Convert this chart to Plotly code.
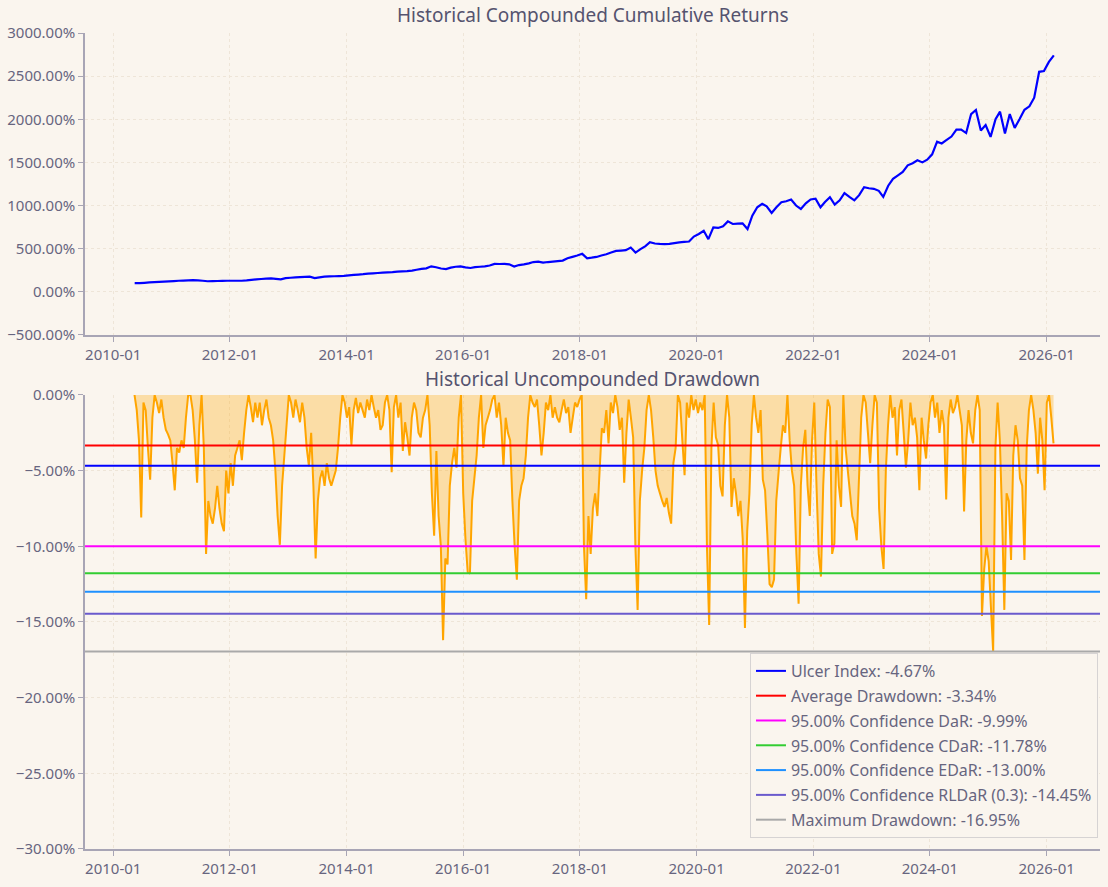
import pandas as pd
import plotly.graph_objects as go
from plotly.subplots import make_subplots

# compounded cumulative returns (%), mid-month samples from 2010-05
cum_returns = [
    101, 100, 104, 109, 111, 114, 117, 120,                          # 2010
    124, 128, 130, 133, 136, 132, 128, 122, 124, 125, 126, 128,      # 2011
    128, 128, 128, 132, 138, 144, 148, 152, 155, 150, 144, 158,      # 2012
    163, 167, 170, 173, 175, 159, 168, 175, 179, 180, 182, 184,      # 2013
    190, 195, 200, 204, 210, 214, 218, 221, 225, 228, 233, 237,      # 2014
    240, 245, 255, 265, 272, 295, 285, 270, 264, 280, 290, 295,      # 2015
    284, 276, 285, 290, 295, 305, 323, 322, 323, 318, 292, 310,      # 2016
    318, 330, 345, 350, 338, 345, 350, 356, 362, 389, 405, 420,      # 2017
    440, 389, 395, 404, 420, 435, 455, 474, 478, 482, 513, 455,      # 2018
    494, 530, 575, 560, 555, 552, 555, 565, 572, 578, 583, 640,      # 2019
    670, 708, 610, 747, 740, 760, 816, 786, 790, 793, 727, 883,      # 2020
    980, 1019, 990, 914, 980, 1038, 1050, 1069, 1000, 960, 1026, 1070,   # 2021
    1080, 980, 1040, 1096, 1011, 1060, 1143, 1100, 1060, 1120, 1213, 1200,  # 2022
    1194, 1170, 1100, 1230, 1310, 1350, 1390, 1466, 1490, 1524, 1500, 1532,  # 2023
    1594, 1740, 1720, 1760, 1800, 1880, 1880, 1840, 2060, 2107, 1870, 1932,  # 2024
    1796, 2000, 2088, 1835, 2060, 1900, 2000, 2110, 2150, 2250, 2550, 2560,  # 2025
    2665, 2740,                                                      # 2026
]

# uncompounded drawdown (%), sampled every 14 days from 2010-05-14
drawdown = [
    0, -1.0, -3.0, -8.1, -0.5, -1.0, -3.5, -5.6, -1.5, 0, -0.5, -1.2, -0.3, -1.5, -2.3, -2.6,
    -3.0, -4.5, -6.3, -3.5, -3.8, -3.0, -3.5, -1.5, 0, 0, -1.0, -3.0, -5.8, -2.0, 0, -3.5,
    -10.5, -7.0, -8.0, -8.5, -7.5, -6.0, -7.5, -8.5, -9.0, -5.0, -6.5, -4.5, -6.0, -4.0, -3.5, -3.0,
    -4.3, -2.5, -1.0, 0, -0.8, -1.8, -0.5, -1.5, -0.5, -2.0, -1.0, -0.3, -1.5, -2.0, -3.0, -5.0,
    -8.0, -9.9, -6.0, -4.0, -2.0, 0, -0.5, -1.5, -0.3, -1.0, -1.8, -0.5, -1.5, -3.5, -4.7, -2.5,
    -6.0, -10.8, -7.0, -5.5, -5.0, -6.0, -4.5, -5.5, -6.0, -5.5, -5.0, -3.5, -1.5, 0, -0.5, -1.5,
    -0.8, -3.3, -1.0, -0.2, -1.2, -0.5, -1.0, -1.5, -0.3, -1.0, 0, -0.8, -1.5, -1.0, -2.3, -2.0,
    -0.5, 0, -1.0, -5.1, -0.8, 0, -1.5, -0.5, -3.7, -1.8, -2.8, -4.0, -1.5, -0.5, -1.0, -2.5,
    -2.8, -1.5, -1.0, 0, -2.0, -6.5, -9.3, -3.7, -8.0, -10.0, -16.2, -10.8, -11.2, -6.0, -4.5, -3.5,
    -4.8, -1.5, 0, -6.5, -9.5, -11.7, -11.8, -7.0, -5.5, -4.0, -1.5, 0, -3.5, -2.0, -1.5, -1.0,
    -0.3, 0, -1.5, -0.5, -2.0, -4.7, -1.5, -2.5, -3.0, -7.0, -10.0, -12.2, -7.0, -6.0, -5.5, -4.0,
    -1.5, 0, -0.5, -0.8, -0.3, -2.0, -4.0, -2.5, -0.5, -1.0, 0, -1.5, -0.8, -1.5, -1.8, -1.0,
    -0.3, -1.2, -0.8, -2.5, -1.5, -0.5, -0.8, -0.3, 0, -10.0, -13.5, -8.0, -10.5, -7.5, -6.5, -8.0,
    -5.0, -2.2, -2.5, -1.0, -3.2, -0.5, -1.2, 0, -0.8, -2.3, -1.5, -5.8, -2.5, -0.3, -1.5, -2.8,
    -10.0, -14.2, -7.0, -5.0, -3.5, -1.0, 0, -1.0, -2.8, -5.0, -6.0, -6.5, -7.0, -7.4, -6.8, -7.8,
    -8.5, -4.5, -3.5, 0, -0.5, -3.0, -5.3, -0.5, -1.5, 0, -1.0, -0.3, -1.2, -0.5, -1.0, 0,
    -10.0, -15.2, -3.5, -0.5, -2.8, -3.3, -6.0, -6.7, -2.0, 0, -1.5, -7.4, -5.5, -6.5, -8.0, -7.0,
    -9.5, -15.4, -9.0, -6.5, -2.0, 0, -1.5, -2.5, -1.0, -5.6, -6.3, -9.2, -12.5, -12.7, -12.2, -7.0,
    -5.2, -3.5, -2.0, -2.5, 0, -3.0, -5.0, -6.0, -10.5, -13.8, -6.0, -3.5, -2.3, -6.0, -8.0, -3.0,
    -0.5, -6.0, -10.5, -12.0, -6.0, -2.5, -0.3, -0.8, -10.5, -9.8, -3.0, -6.0, -7.4, 0, -3.5, -5.0,
    -6.5, -8.0, -8.5, -9.6, -5.5, -1.5, 0, -0.5, -2.5, -4.5, -2.0, 0, -0.5, -7.5, -10.0, -11.5,
    -5.0, -2.0, 0, -1.5, -0.8, -4.0, -1.0, -0.3, -2.5, -4.8, -3.0, -0.5, -2.0, -1.5, -2.8, -6.3,
    -1.5, -3.0, -4.2, -2.0, -0.5, 0, -1.5, -0.5, -2.5, -1.0, -2.0, -6.9, -1.5, -0.3, -1.2, -0.8,
    0, -1.0, -2.0, -7.7, -3.0, -1.0, -2.5, -3.2, -1.0, 0, -1.0, -14.6, -11.5, -10.0, -11.0, -14.0,
    -16.95, -3.5, -0.5, -3.0, -8.0, -14.2, -6.5, -7.0, -10.9, -4.0, -2.0, -3.0, -5.5, -6.0, -10.9, -3.5,
    -1.0, 0, -1.0, -2.5, -5.2, -1.5, -3.0, -6.3, -0.5, 0, -1.5, -3.2,
]

risk_values = [-4.67, -3.34, -9.99, -11.78, -13.00, -14.45, -16.95]
risk_labels = [
    "Ulcer Index: -4.67%",
    "Average Drawdown: -3.34%",
    "95.00% Confidence DaR: -9.99%",
    "95.00% Confidence CDaR: -11.78%",
    "95.00% Confidence EDaR: -13.00%",
    "95.00% Confidence RLDaR (0.3): -14.45%",
    "Maximum Drawdown: -16.95%",
]
risk_colors = ["blue", "red", "fuchsia", "limegreen", "dodgerblue", "slateblue", "darkgrey"]

cr_dates = pd.date_range("2010-05-01", periods=len(cum_returns), freq="MS") + pd.Timedelta(days=14)
dd_dates = pd.date_range("2010-05-14", periods=len(drawdown), freq="14D")

x_range = ["2009-07-08", "2026-12-01"]

bg = "#faf5ee"
grid = "#eee5d8"
axis_col = "#a8a5b5"
tick_col = "#67657f"
title_col = "#55536f"
font = "Noto Sans"

fig = make_subplots(rows=2, cols=1)

fig.add_trace(go.Scatter(x=cr_dates, y=cum_returns, mode="lines",
                         line=dict(color="blue", width=2.2, simplify=False),
                         showlegend=False),
              row=1, col=1)

# drawdown area and line
fig.add_trace(go.Scatter(x=dd_dates, y=drawdown, mode="lines", fill="tozeroy",
                         fillcolor="rgba(255,165,0,0.3)",
                         line=dict(color="orange", width=2, simplify=False),
                         showlegend=False),
              row=2, col=1)

# risk measure levels
for val, lab, col in zip(risk_values, risk_labels, risk_colors):
    fig.add_trace(go.Scatter(x=x_range, y=[val, val], mode="lines", name=lab,
                             legendgroup=lab, line=dict(color=col, width=2)),
                  row=2, col=1)

axis_style = dict(showline=True, linecolor=axis_col, linewidth=1.5, ticks="outside",
                  ticklen=5, tickcolor=axis_col, showgrid=True, gridcolor=grid,
                  griddash="dot", gridwidth=1, zeroline=False,
                  tickfont=dict(family=font, size=15, color=tick_col))

fig.update_xaxes(type="date", range=x_range, dtick="M24", tick0="2010-01-01",
                 tickformat="%Y-%m", **axis_style)
fig.update_yaxes(tickformat=".2f", ticksuffix="%", **axis_style)
fig.update_yaxes(range=[-500, 3000], dtick=500, row=1, col=1)
fig.update_yaxes(range=[-30, 0], dtick=5, row=2, col=1)

fig.update_layout(
    width=1108, height=887,
    margin=dict(l=85, r=8, t=33, b=38),
    paper_bgcolor=bg, plot_bgcolor=bg,
    font=dict(family=font, color=tick_col),
    xaxis=dict(domain=[0, 1]), yaxis=dict(domain=[0.630, 1.0]),
    xaxis2=dict(domain=[0, 1]), yaxis2=dict(domain=[0.0, 0.5564]),
    legend=dict(x=0.998, xanchor="right", y=0.0135, yanchor="bottom",
                bgcolor=bg, bordercolor="#d6d3d3", borderwidth=1,
                font=dict(family=font, size=16, color=tick_col),
                traceorder="grouped", tracegroupgap=1),
    annotations=[
        dict(text="Historical Compounded Cumulative Returns", x=0.5, y=1.0,
             xref="paper", yref="paper", xanchor="center", yanchor="bottom",
             yshift=3, showarrow=False, font=dict(family=font, size=19, color=title_col)),
        dict(text="Historical Uncompounded Drawdown", x=0.5, y=0.5564,
             xref="paper", yref="paper", xanchor="center", yanchor="bottom",
             yshift=1, showarrow=False, font=dict(family=font, size=19, color=title_col)),
    ],
)

fig.write_html("out.html", config={"displayModeBar": False},
               post_script="document.body.style.margin='0';"
                           "document.body.style.background='" + bg + "';")
